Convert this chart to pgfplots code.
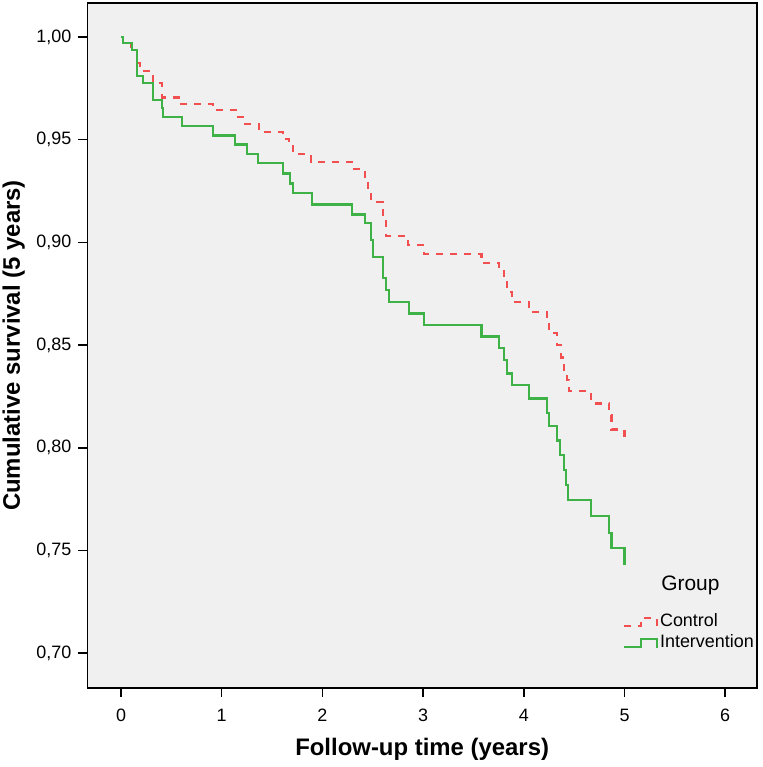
\documentclass[border=0pt]{standalone}
\usepackage{fontspec}
\setmainfont{Liberation Sans}
\usepackage{pgfplots}
\pgfplotsset{compat=1.18}
\definecolor{ctrlred}{RGB}{242,80,80}
\definecolor{intgreen}{RGB}{62,178,70}
\definecolor{panel}{RGB}{240,240,240}

\begin{document}
\begin{tikzpicture}
\begin{axis}[
width=334.85bp,
height=342.5bp,
scale only axis,
xmin=-0.335, xmax=6.316,
ymin=0.683, ymax=1.0166,
xtick={0,1,2,3,4,5,6},
ytick={0.70,0.75,0.80,0.85,0.90,0.95,1.00},
tick align=outside,
xtick pos=bottom,
ytick pos=left,
major tick length=4.5bp,
tick style={black, line width=0.75bp},
axis line style={black, line width=0.75bp},
axis background/.style={fill=panel},
/pgf/number format/assume math mode=true,
yticklabel style={/pgf/number format/fixed, /pgf/number format/fixed zerofill, /pgf/number format/precision=2, /pgf/number format/use comma},
ticklabel style={font=\fontsize{9}{11}\selectfont},
xticklabel style={yshift=-2.5bp},
xlabel={Follow-up time (years)},
ylabel={Cumulative survival (5 years)},
label style={font=\bfseries\fontsize{12}{14}\selectfont},
xlabel style={at={(axis description cs:0.5,-0.0895)}, anchor=center},
ylabel style={at={(axis description cs:-0.110,0.5)}, anchor=center},
legend cell align=left,
legend style={draw=none, fill=none, at={(axis cs:4.98,0.7209)}, anchor=north west,
  font=\fontsize{9}{11}\selectfont, row sep=0pt, inner sep=0pt,
  nodes={inner sep=1bp}},
legend image code/.code={\draw[#1] (0bp,-2.5bp) -- (8.5bp,-2.5bp) -- (8.5bp,1.5bp) -- (16.5bp,1.5bp) -- (16.5bp,-3bp);},
]
% Control
\addplot [const plot, ctrlred, line width=1.1bp, dash pattern=on 3.5bp off 3.5bp] coordinates {
(0,1.0)(0.02,0.997)(0.10,0.9938)(0.155,0.9875)(0.19,0.9833)(0.315,0.9775)(0.404,0.9706)
(0.60,0.9675)(0.91,0.9643)(1.14,0.9609)(1.235,0.9578)(1.37,0.9539)(1.61,0.9505)(1.67,0.947)
(1.71,0.9429)(1.89,0.9393)(2.29,0.9356)(2.42,0.931)(2.455,0.925)(2.485,0.9198)(2.60,0.912)
(2.635,0.9032)(2.85,0.8987)(3.01,0.8943)(3.58,0.8901)(3.75,0.886)(3.80,0.881)(3.83,0.876)
(3.88,0.871)(4.05,0.8662)(4.23,0.861)(4.25,0.856)(4.33,0.850)(4.37,0.844)(4.40,0.838)
(4.43,0.833)(4.45,0.8276)(4.67,0.8216)(4.85,0.816)(4.87,0.8089)(5.0,0.8027)};
\addlegendentry{\rule[-2bp]{0pt}{9bp}Control}

% Intervention
\addplot [const plot, intgreen, line width=1.1bp] coordinates {
(0,1.0)(0.023,0.997)(0.106,0.9938)(0.155,0.9869)(0.16,0.981)(0.222,0.9776)(0.315,0.9695)
(0.404,0.9654)(0.42,0.9609)(0.603,0.9565)(0.91,0.9521)(1.13,0.9477)(1.248,0.943)(1.364,0.9385)
(1.612,0.9336)(1.678,0.9287)(1.71,0.9239)(1.894,0.9185)(2.29,0.9136)(2.42,0.9093)(2.48,0.901)
(2.50,0.893)(2.60,0.8825)(2.63,0.8768)(2.66,0.8711)(2.86,0.8654)(3.01,0.8597)(3.58,0.8542)
(3.75,0.8484)(3.80,0.8427)(3.83,0.8362)(3.88,0.8305)(4.05,0.824)(4.23,0.817)(4.25,0.8105)
(4.33,0.8035)(4.36,0.7964)(4.40,0.789)(4.42,0.7818)(4.44,0.7745)(4.67,0.7668)(4.85,0.7586)
(4.87,0.751)(5.0,0.7428)};
\addlegendentry{\rule[-2bp]{0pt}{9bp}Intervention}

\node[anchor=base west, inner sep=0pt, font=\fontsize{10.5}{12}\selectfont] at (axis cs:5.362,0.7306) {Group};
\end{axis}
\pgfresetboundingbox
\path ([xshift=-43.65bp,yshift=-39.5bp]current axis.south west) rectangle ([xshift=3bp,yshift=1.5bp]current axis.north east);
\end{tikzpicture}
\end{document}
